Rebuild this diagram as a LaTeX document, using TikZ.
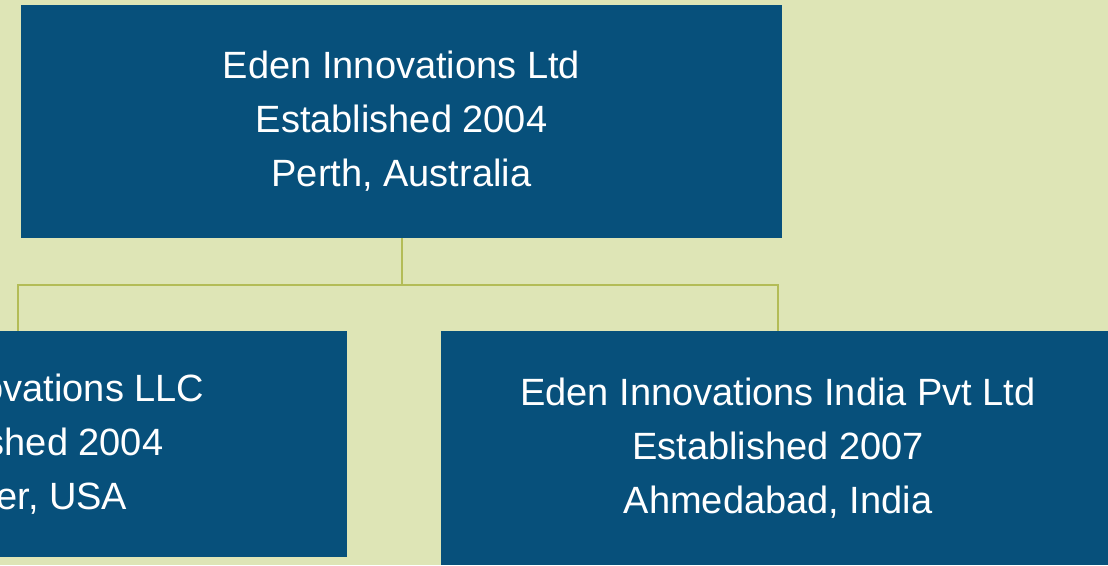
\documentclass[tikz,border=0pt]{standalone}
\usepackage{fontspec}
\setmainfont{Liberation Sans}
\definecolor{bgc}{HTML}{DEE5B6}
\definecolor{boxc}{HTML}{07507B}
\definecolor{linec}{HTML}{B3BC57}
\tikzset{
  orgbox/.style={fill=boxc, draw=none, text=white, align=center, inner sep=0pt,
    font=\fontsize{38}{54}\selectfont},
  conn/.style={draw=linec, line width=2pt}
}
\begin{document}
\begin{tikzpicture}[x=1pt,y=-1pt]
\useasboundingbox (0,0) rectangle (1108,565);
\clip (0,0) rectangle (1108,565);
\fill[bgc] (0,0) rectangle (1108,565);
\node[orgbox, minimum width=761pt, minimum height=233pt] (top) at (401.5,121.5)
  {Eden Innovations Ltd\\Established 2004\\Perth, Australia};
\node[orgbox, minimum width=659pt, minimum height=226pt] (left) at (17.5,444)
  {Eden Innovations LLC\\Established 2004\\Denver, USA};
\node[orgbox, minimum width=674pt, minimum height=234pt] (right) at (778,448)
  {Eden Innovations India Pvt Ltd\\Established 2007\\Ahmedabad, India};
\coordinate (bus) at (401.5,284.5);
\draw[conn] (top.south) -- (bus) -| (left.north);
\draw[conn] (bus) -| (right.north);
\end{tikzpicture}
\end{document}
